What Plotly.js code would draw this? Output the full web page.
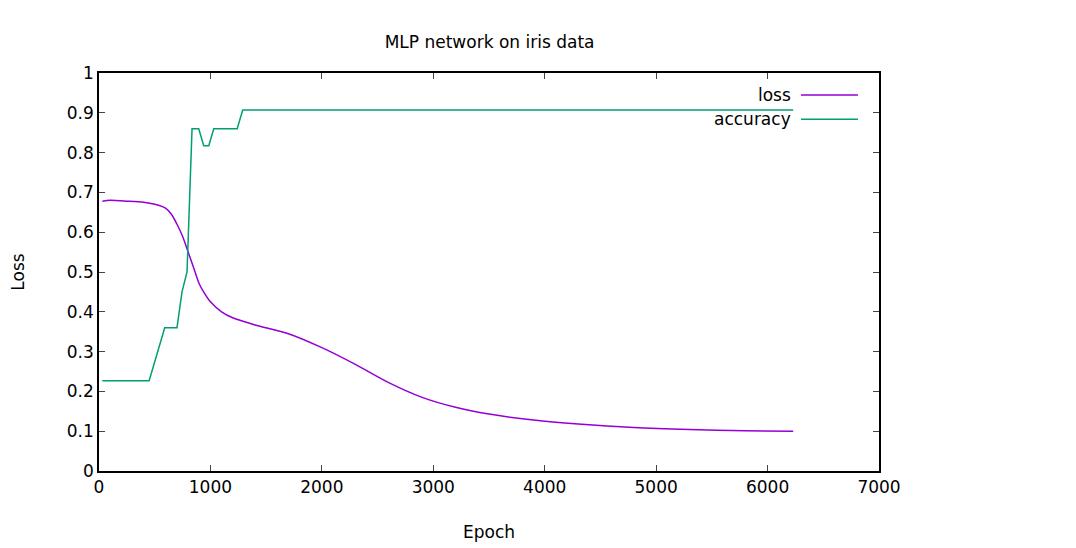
<html><head><script src="https://cdn.plot.ly/plotly-3.0.1.min.js"></script></head><body style="margin:0">
<div id="c" style="width:1076px;height:548px"></div>
<script>
const lossEpoch=[30,100,250,400,500,600,650,700,750,800,850,900,950,1000,1100,1200,1400,1700,2000,2300,2600,2900,3200,3500,3900,4300,4800,5300,5800,6230];
const lossVal=[0.678,0.68,0.678,0.675,0.67,0.66,0.645,0.62,0.59,0.55,0.51,0.47,0.445,0.425,0.4,0.385,0.367,0.345,0.31,0.268,0.222,0.185,0.16,0.143,0.128,0.118,0.109,0.104,0.101,0.1];
const accEpoch=[30,450,590,700,745,790,835,895,940,985,1030,1240,1290,6230];
const accVal=[0.227,0.227,0.36,0.36,0.45,0.5,0.86,0.86,0.817,0.817,0.86,0.86,0.907,0.907];
const ax={showline:true,mirror:'allticks',ticks:'inside',ticklen:6,linecolor:'#000',linewidth:1.5,showgrid:false,zeroline:false,tickfont:{size:17,color:'#000'}};
Plotly.newPlot('c',[
{x:lossEpoch,y:lossVal,mode:'lines',line:{color:'#9400d3',width:1.5,shape:'spline',smoothing:0.8},name:'loss'},
{x:accEpoch,y:accVal,mode:'lines',line:{color:'#009e73',width:1.5},name:'accuracy'}],
{width:1076,height:548,margin:{l:99,r:197,t:73,b:77},showlegend:false,
font:{family:'DejaVu Sans',color:'#000'},
title:{text:'MLP network on iris data',font:{size:17},x:0.455,y:0.935},
xaxis:Object.assign({},ax,{range:[0,7000],dtick:1000,title:{text:'Epoch',font:{size:17},standoff:30}}),
yaxis:Object.assign({},ax,{range:[0,1],dtick:0.1,title:{text:'Loss',font:{size:17},standoff:38}}),
annotations:[
{xref:'paper',yref:'paper',x:0.89,y:0.945,yanchor:'middle',text:'loss',showarrow:false,xanchor:'right',font:{size:17}},
{xref:'paper',yref:'paper',x:0.89,y:0.884,yanchor:'middle',text:'accuracy',showarrow:false,xanchor:'right',font:{size:17}}],
shapes:[
{type:'line',xref:'paper',yref:'paper',x0:0.9,x1:0.973,y0:0.945,y1:0.945,line:{color:'#9400d3',width:1.5}},
{type:'line',xref:'paper',yref:'paper',x0:0.9,x1:0.973,y0:0.884,y1:0.884,line:{color:'#009e73',width:1.5}}]
},{displayModeBar:false});
</script></body></html>
